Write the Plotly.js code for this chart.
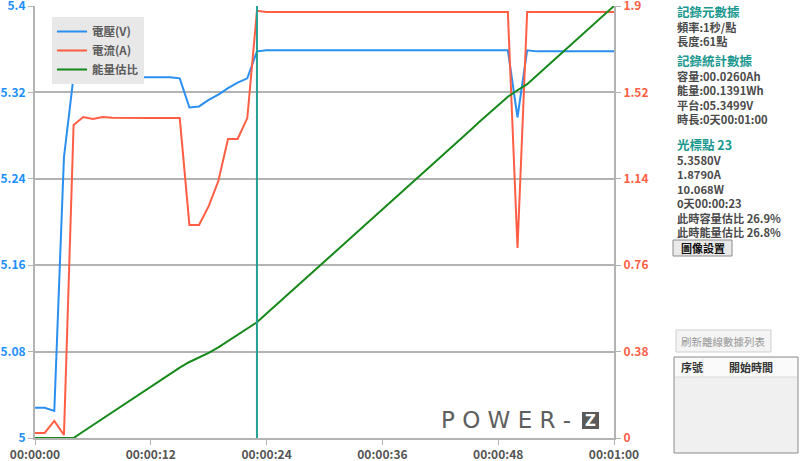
<!DOCTYPE html>
<html>
<head>
<meta charset="utf-8">
<script src="https://cdn.plot.ly/plotly-3.0.1.min.js"></script>
<style>
html,body{margin:0;padding:0;background:#fff;}
#chart{width:800px;height:461px;}
</style>
</head>
<body>
<div id="chart"></div>
<script>
// ---- data ----
const seconds = [0,1,2,3,4,5,6,7,8,9,10,11,12,13,14,15,16,17,18,19,20,21,22,23,24,25,26,27,28,29,30,31,32,33,34,35,36,37,38,39,40,41,42,43,44,45,46,47,48,49,50,51,52,53,54,55,56,57,58,59,60];
const voltage = [5.028,5.028,5.025,5.260,5.335,5.335,5.335,5.334,5.334,5.334,5.334,5.334,5.334,5.334,5.334,5.333,5.306,5.307,5.313,5.318,5.324,5.329,5.333,5.358,5.359,5.359,5.359,5.359,5.359,5.359,5.359,5.359,5.359,5.359,5.359,5.359,5.359,5.359,5.359,5.359,5.359,5.359,5.359,5.359,5.359,5.359,5.359,5.359,5.359,5.359,5.297,5.359,5.358,5.358,5.358,5.358,5.358,5.358,5.358,5.358,5.358];
const current = [0.022,0.022,0.075,0.013,1.377,1.412,1.403,1.412,1.408,1.407,1.407,1.407,1.407,1.407,1.407,1.407,0.937,0.937,1.020,1.130,1.315,1.315,1.407,1.879,1.874,1.874,1.874,1.874,1.874,1.874,1.874,1.874,1.874,1.874,1.874,1.874,1.874,1.874,1.874,1.874,1.874,1.874,1.874,1.874,1.874,1.874,1.874,1.874,1.874,1.874,0.836,1.874,1.874,1.874,1.874,1.874,1.874,1.874,1.874,1.874,1.874];
const energyPct = [0,0,0,0,0,1.5,3.0,4.5,6.0,7.4,8.9,10.4,11.9,13.3,14.8,16.3,17.6,18.6,19.7,21.0,22.4,23.9,25.3,26.8,28.8,30.8,32.8,34.8,36.9,38.9,40.9,42.9,44.9,46.9,48.9,50.9,52.9,55.0,57.0,59.0,61.0,63.0,65.0,67.0,69.0,71.0,73.1,75.1,77.1,79.0,80.5,81.9,83.9,85.9,87.9,89.9,91.9,94.0,96.0,98.0,100.0];
const seriesNames = ['電壓(V)','電流(A)','能量估比'];
const xTickVals = [0,12,24,36,48,60];
const xTickText = ['00:00:00','00:00:12','00:00:24','00:00:36','00:00:48','00:01:00'];
const vTickVals = [5,5.08,5.16,5.24,5.32,5.4];
const vTickText = ['5','5.08','5.16','5.24','5.32','5.4'];
const aTickVals = [0,0.38,0.76,1.14,1.52,1.9];
const aTickText = ['0','0.38','0.76','1.14','1.52','1.9'];
const cursorSecond = 23;

const metaTitle = '記錄元數據';
const metaLines = ['頻率:1秒/點','長度:61點'];
const statTitle = '記錄統計數據';
const statLines = ['容量:00.0260Ah','能量:00.1391Wh','平台:05.3499V','時長:0天00:01:00'];
const cursorTitle = '光標點 23';
const cursorLines = ['5.3580V','1.8790A','10.068W','0天00:00:23','此時容量估比 26.9%','此時能量估比 26.8%'];
const btnSettings = '圖像設置';
const btnRefresh = '刷新離線數據列表';
const tableHeaders = ['序號','開始時間'];
const logoText = 'P O W E R -';
const logoMark = 'Z';

// ---- layout helpers ----
const L = 35, R = 614, T = 6, B = 438;
const px = v => (v - L) / (R - L);
const py = v => (B - v) / (B - T);
const FONT = '"Noto Sans CJK TC", "Noto Sans", sans-serif';
const teal = '#1a9890';
const textGray = '#4a4a4a';

const traces = [
  {x: seconds, y: voltage, name: seriesNames[0], type: 'scatter', mode: 'lines',
   line: {color: '#2a8ff0', width: 2}, yaxis: 'y'},
  {x: seconds, y: current, name: seriesNames[1], type: 'scatter', mode: 'lines',
   line: {color: '#ff5e45', width: 2}, yaxis: 'y2'},
  {x: seconds, y: energyPct, name: seriesNames[2], type: 'scatter', mode: 'lines',
   line: {color: '#14891a', width: 2}, yaxis: 'y3'}
];

const annotations = [];
function addText(text, xpx, ypx, opts) {
  annotations.push(Object.assign({
    text: text, xref: 'paper', yref: 'paper', x: px(xpx), y: py(ypx),
    xanchor: 'left', yanchor: 'middle', showarrow: false, align: 'left', borderpad: 0,
    font: {family: FONT, size: 11.2, color: textGray, weight: 'bold'}
  }, opts || {}));
}
const head = s => '<span style="color:' + teal + ';font-size:12.5px">' + s + '</span>';
addText([head(metaTitle)].concat(metaLines).join('<br>'), 676, 25.5);
addText([head(statTitle)].concat(statLines).join('<br>'), 676, 88.5);
addText([head(cursorTitle)].concat(cursorLines).join('<br>'), 676, 187);
addText(btnSettings, 702.5, 248, {xanchor: 'center', font: {family: FONT, size: 11, color: '#111', weight: 'bold'}});
addText(btnRefresh, 723.5, 341, {xanchor: 'center', font: {family: FONT, size: 10.5, color: '#9a9a9a', weight: 'normal'}});
addText(tableHeaders[0], 680, 367, {font: {family: FONT, size: 11, color: '#333', weight: 'bold'}});
addText(tableHeaders[1], 751, 367, {xanchor: 'center', font: {family: FONT, size: 11, color: '#333', weight: 'bold'}});
// logo
addText(logoText, 440, 420, {font: {family: '"DejaVu Sans", sans-serif', size: 23, color: '#5e5e5e', weight: 'normal'}});
addText(logoMark, 590.5, 420.5, {xanchor: 'center', font: {family: '"DejaVu Sans", sans-serif', size: 15, color: '#ffffff', weight: 'bold'}});

const shapes = [
  {type: 'line', xref: 'x', yref: 'paper', x0: cursorSecond, x1: cursorSecond, y0: 0, y1: 1,
   line: {color: '#23a091', width: 2}, layer: 'above'},
  // logo Z box
  {type: 'rect', xref: 'paper', yref: 'paper', x0: px(582), x1: px(599), y0: py(429), y1: py(412),
   fillcolor: '#5a5a5a', line: {width: 0}, layer: 'below'},
  // settings button
  {type: 'rect', xref: 'paper', yref: 'paper', x0: px(673), x1: px(732), y0: py(256), y1: py(240),
   fillcolor: '#e9e9e9', line: {color: '#8a8a8a', width: 1}},
  // refresh button
  {type: 'rect', xref: 'paper', yref: 'paper', x0: px(676), x1: px(771), y0: py(352), y1: py(330),
   fillcolor: '#f4f4f4', line: {color: '#cfcfcf', width: 1}},
  // table
  {type: 'rect', xref: 'paper', yref: 'paper', x0: px(674), x1: px(798), y0: py(453), y1: py(357),
   fillcolor: '#f0f0f0', line: {color: '#8c8c8c', width: 1}},
  {type: 'rect', xref: 'paper', yref: 'paper', x0: px(675), x1: px(797), y0: py(377), y1: py(358),
   fillcolor: '#fafafa', line: {width: 0}},
  {type: 'line', xref: 'paper', yref: 'paper', x0: px(675), x1: px(797), y0: py(377), y1: py(377),
   line: {color: '#d8d8d8', width: 1}},
  {type: 'line', xref: 'paper', yref: 'paper', x0: px(703), x1: px(703), y0: py(377), y1: py(358),
   line: {color: '#e4e4e4', width: 1}}
];

const axisGray = '#b3b3b3';
const layout = {
  width: 800, height: 461,
  margin: {l: L, r: 800 - R, t: T, b: 461 - B, pad: 0},
  paper_bgcolor: '#ffffff', plot_bgcolor: '#ffffff',
  showlegend: true,
  legend: {x: px(52), y: py(17), xanchor: 'left', yanchor: 'top', bgcolor: '#e8e8e8',
           borderwidth: 0, font: {family: FONT, size: 11.5, color: '#5a5a5a', weight: 'bold'},
           tracegroupgap: 0, itemwidth: 30},
  xaxis: {range: [0, 60], tickvals: xTickVals, ticktext: xTickText, showgrid: false,
          zeroline: false, showline: true, linecolor: axisGray, linewidth: 2,
          ticks: 'outside', ticklen: 5, tickcolor: axisGray, tickwidth: 1, ticklabeloverflow: 'allow',
          tickfont: {family: FONT, size: 12, color: '#555', weight: 'bold'}},
  yaxis: {range: [5, 5.40001], tickvals: vTickVals, ticktext: vTickText, showgrid: true, gridcolor: axisGray, gridwidth: 2,
          zeroline: false, showline: true, linecolor: axisGray, linewidth: 2, ticklabeloverflow: 'allow',
          ticks: 'outside', ticklen: 5, tickcolor: axisGray,
          tickfont: {family: FONT, size: 12, color: '#1e8fff', weight: 'bold'}},
  yaxis2: {range: [0, 1.90001], tickvals: aTickVals, ticktext: aTickText, overlaying: 'y', side: 'right',
           showgrid: false, zeroline: false, showline: true, linecolor: axisGray, linewidth: 2, ticklabeloverflow: 'allow',
           ticks: 'outside', ticklen: 5, tickcolor: axisGray,
           tickfont: {family: FONT, size: 12, color: '#ff5e45', weight: 'bold'}},
  yaxis3: {range: [0, 100], overlaying: 'y', visible: false, showgrid: false, zeroline: false},
  shapes: shapes,
  annotations: annotations
};

Plotly.newPlot('chart', traces, layout, {displayModeBar: false, staticPlot: true});
</script>
</body>
</html>
